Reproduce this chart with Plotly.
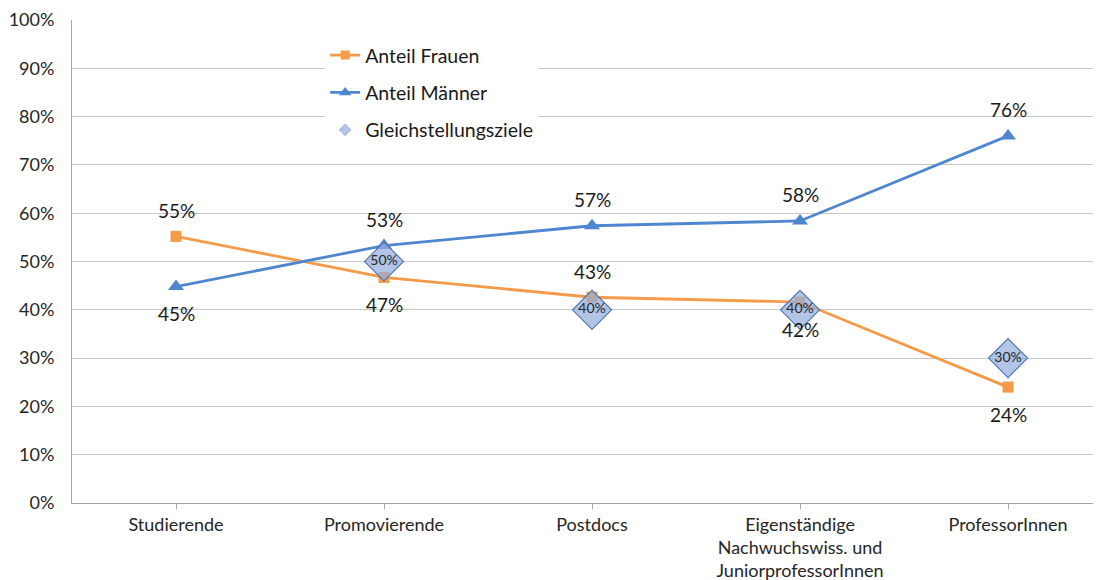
import plotly.graph_objects as go

categories = ["Studierende", "Promovierende", "Postdocs",
              "Eigenständige<br>Nachwuchswiss. und<br>JuniorprofessorInnen",
              "ProfessorInnen"]
frauen = [55.2, 46.7, 42.6, 41.6, 24.0]
maenner = [44.8, 53.3, 57.4, 58.4, 76.0]
ziele_cats = categories[1:]
ziele = [50, 40, 40, 30]
frauen_label_pos = ["top", "bottom", "top", "bottom", "bottom"]
maenner_label_pos = ["bottom", "top", "top", "top", "top"]
y_ticks = [0, 10, 20, 30, 40, 50, 60, 70, 80, 90, 100]

ORANGE = "#F59A48"
BLUE = "#4F86D0"
DIAMOND_FILL = "rgba(148,175,221,0.72)"
DIAMOND_LINE = "#5478B0"
FONT = "Lato"

fig = go.Figure()
fig.add_trace(go.Scatter(
    x=categories, y=frauen, name="Anteil Frauen", mode="lines+markers",
    line=dict(color=ORANGE, width=2.8),
    marker=dict(symbol="square", size=11, color=ORANGE),
    showlegend=False))
fig.add_trace(go.Scatter(
    x=categories, y=maenner, name="Anteil Männer", mode="lines+markers",
    line=dict(color=BLUE, width=2.8),
    marker=dict(symbol="triangle-up", size=14, color=BLUE),
    showlegend=False))
fig.add_trace(go.Scatter(
    x=ziele_cats, y=ziele, name="Gleichstellungsziele", mode="markers+text",
    marker=dict(symbol="diamond", size=30, color=DIAMOND_FILL,
                line=dict(color=DIAMOND_LINE, width=1.2)),
    text=[f"{v}%" for v in ziele], textposition="middle center",
    textfont=dict(family=FONT, size=14, color="#262626"),
    showlegend=False))

# legend entries (small markers as in the reference legend)
fig.add_trace(go.Scatter(
    x=[None], y=[None], name="Anteil Frauen", mode="lines+markers",
    line=dict(color=ORANGE, width=2.8),
    marker=dict(symbol="square", size=9, color=ORANGE), legendgroup="f"))
fig.add_trace(go.Scatter(
    x=[None], y=[None], name="Anteil Männer", mode="lines+markers",
    line=dict(color=BLUE, width=2.8),
    marker=dict(symbol="triangle-up", size=11, color=BLUE), legendgroup="m"))
fig.add_trace(go.Scatter(
    x=[None], y=[None], name="Gleichstellungsziele", mode="markers",
    marker=dict(symbol="diamond", size=9, color=DIAMOND_FILL,
                line=dict(color="#9fb6dc", width=1)), legendgroup="z"))

for series, positions in ((frauen, frauen_label_pos), (maenner, maenner_label_pos)):
    for c, v, p in zip(categories, series, positions):
        fig.add_annotation(x=c, y=v, text=f"{round(v)}%", showarrow=False,
                           yshift=26 if p == "top" else -27,
                           font=dict(family=FONT, size=19, color="#1a1a1a"))

fig.update_layout(
    width=1093, height=572,
    margin=dict(l=64, r=0, t=12, b=77),
    paper_bgcolor="white", plot_bgcolor="white",
    font=dict(family=FONT, size=18, color="#262626"),
    showlegend=True,
    legend=dict(x=0.246, y=0.967, xanchor="left", yanchor="top",
                bgcolor="white", font=dict(family=FONT, size=19.5, color="#1a1a1a"),
                traceorder="grouped", tracegroupgap=9,
                itemsizing="trace"),
)
fig.update_xaxes(
    type="category", range=[-0.5, 4.447], automargin=False,
    showline=True, linecolor="#a6a6a6", linewidth=1,
    ticks="outside", ticklen=5, tickcolor="#a6a6a6",
    showgrid=False, tickfont=dict(family=FONT, size=18, color="#262626"),
    ticklabeloverflow="allow", fixedrange=True)
fig.update_yaxes(
    range=[0, 100], tickvals=y_ticks, ticktext=[f"{v}%" for v in y_ticks],
    automargin=False,
    showline=True, linecolor="#a6a6a6", linewidth=1,
    showgrid=True, gridcolor="#c8c8c8", gridwidth=1,
    zeroline=False, ticks="", ticklabelstandoff=13,
    tickfont=dict(family=FONT, size=18, color="#262626"),
    ticklabeloverflow="allow", fixedrange=True)

fig.write_html("out.html")
